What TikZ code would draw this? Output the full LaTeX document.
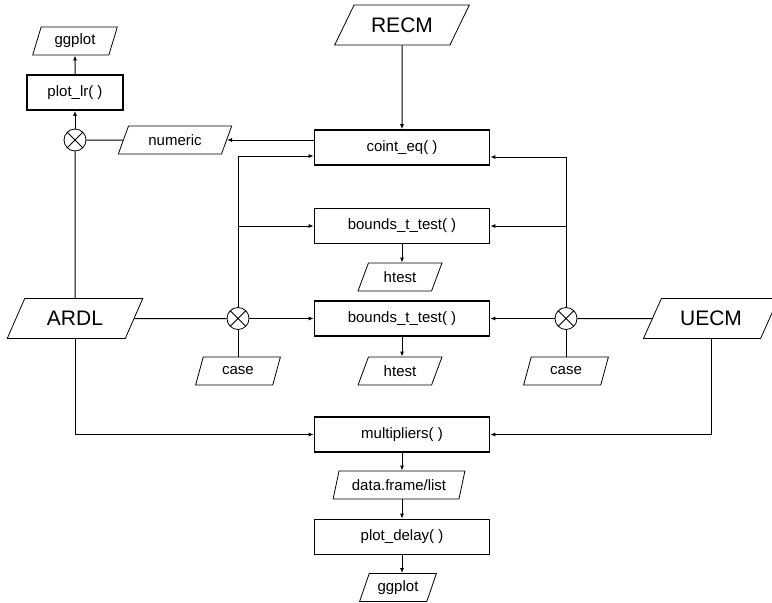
\documentclass[tikz,border=0pt]{standalone}
\usepackage{fontspec}
\setmainfont{Liberation Sans}
\usetikzlibrary{arrows.meta, shapes.geometric}

\tikzset{
  func/.style={draw, line width=1.6pt, minimum width=175pt, minimum height=35pt,
    inner sep=0pt, font=\fontsize{15}{17}\selectfont},
  io/.style={draw, line width=0.8pt, trapezium, trapezium left angle=#1,
    trapezium right angle={180-#1}, trapezium stretches=true,
    minimum height=28pt, inner sep=0pt, font=\fontsize{15}{17}\selectfont},
  big/.style={minimum height=40pt, font=\fontsize{21}{23}\selectfont},
  junc/.style={draw, circle, line width=0.8pt, minimum size=22pt, inner sep=0pt,
    path picture={\draw[line width=0.8pt]
      (path picture bounding box.north west) -- (path picture bounding box.south east)
      (path picture bounding box.south west) -- (path picture bounding box.north east);}},
  flow/.style={-{Latex[length=5pt,width=4pt]}, line width=1pt},
  link/.style={line width=1pt}
}

\begin{document}
\begin{tikzpicture}[x=1pt,y=-1pt]
\useasboundingbox (0,0) rectangle (772,603);
% Draw function boxes
\node[func] (coint) at (402,147.5) {coint\_eq( )};
\node[func] (bndA) at (402,226) {bounds\_t\_test( )};
\node[func] (bndB) at (402,318.5) {bounds\_t\_test( )};
\node[func] (mult) at (402,434.5) {multipliers( )};
\node[func] (delay) at (402,537) {plot\_delay( )};
\node[func, minimum width=96pt] (plotlr) at (75,92.5) {plot\_lr( )};
% Draw model inputs
\node[io=50, big, minimum width=135pt] (recm) at (402,25) {RECM};
\node[io=56, big, minimum width=136pt] (ardl) at (75,318.5) {ARDL};
\node[io=53, big, minimum width=136pt] (uecm) at (711,318.5) {UECM};
% Draw other data
\node[io=70, minimum width=85pt] (ggA) at (75,41) {ggplot};
\node[io=62, minimum width=114pt] (num) at (175,140) {numeric};
\node[io=67, minimum width=85pt] (caseL) at (238,371) {case};
\node[io=67, minimum width=85pt] (caseR) at (566,371) {case};
\node[io=64, minimum width=84pt] (htA) at (400,277) {htest};
\node[io=64, minimum width=84pt] (htB) at (400,371) {htest};
\node[io=67, minimum width=132pt] (dfl) at (399,485) {data.frame/list};
\node[io=64, minimum width=77pt] (ggB) at (398,587.5) {ggplot};
% Draw junctions
\node[junc] (jA) at (75,140) {};
\node[junc] (jL) at (238,318.5) {};
\node[junc] (jR) at (566,318.5) {};
% Left branch
\draw[flow] (recm) -- (coint);
\draw[flow] (coint.west |- num.east) -- (num.east);
\draw[link] (num) -- (jA);
\draw[flow] (jA) -- (plotlr);
\draw[flow] (plotlr) -- (ggA);
\draw[link] (ardl) -- (jA);
\draw[link] (ardl) -- (jL);
\draw[flow] (jL) -- (bndB);
\draw[flow] (jL) |- ([yshift=-8.5pt]coint.west);
\draw[flow] (jL.north |- bndA) -- (bndA);
\draw[link] (jL) -- (jL |- caseL.north);
% Right branch
\draw[link] (uecm) -- (jR);
\draw[flow] (jR) -- (bndB);
\draw[flow] (jR) |- ([yshift=-9.5pt]coint.east);
\draw[flow] (jR.north |- bndA) -- (bndA);
\draw[link] (jR) -- (jR |- caseR.north);
% Lower chain
\draw[flow] (ardl) |- (mult);
\draw[flow] (uecm) |- (mult);
\draw[flow] (bndA) -- (bndA.south |- htA.north);
\draw[flow] (bndB) -- (bndB.south |- htB.north);
\draw[flow] (mult) -- (mult.south |- dfl.north);
\draw[flow] (mult.south |- dfl.south) -- (delay);
\draw[flow] (delay) -- (delay.south |- ggB.north);
\end{tikzpicture}
\end{document}
